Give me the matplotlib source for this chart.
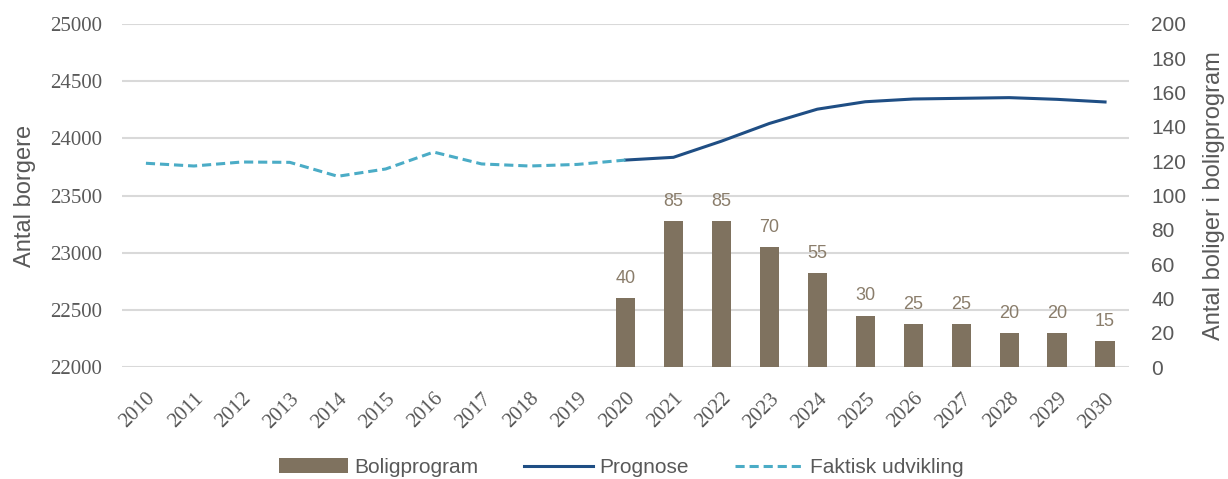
import matplotlib.pyplot as plt
import numpy as np

years = list(range(2010, 2031))
faktisk_years = list(range(2010, 2021))
faktisk = [23782, 23758, 23793, 23790, 23668, 23732, 23880, 23776, 23758, 23772, 23810]
prognose_years = list(range(2020, 2031))
prognose = [23810, 23834, 23975, 24130, 24255, 24320, 24344, 24350, 24356, 24341, 24318]
bolig_years = list(range(2020, 2031))
boligprogram = [40, 85, 85, 70, 55, 30, 25, 25, 20, 20, 15]

grey = '#595959'
bar_col = '#7f725f'

fig = plt.figure(figsize=(12.28, 4.79), dpi=100)
ax = fig.add_axes([0.0993, 0.2338, 0.8201, 0.7161])
ax2 = ax.twinx()

x = np.arange(len(years))
xf = [years.index(y) for y in faktisk_years]
xp = [years.index(y) for y in prognose_years]
xb = [years.index(y) for y in bolig_years]

# bars on the right axis, drawn above the left axis grid
ax2.bar(xb, boligprogram, width=0.4, color=bar_col, label='Boligprogram', zorder=2)
for xi, v in zip(xb, boligprogram):
    ax2.annotate(str(v), (xi, v), xytext=(0, 8), textcoords='offset points',
                 ha='center', va='bottom', fontsize=13, color='#8a7d6b',
                 family='Liberation Sans')

ax.plot(xp, prognose, color='#1f4e84', lw=2.2, label='Prognose', zorder=4)
ax.plot(xf, faktisk, color='#4bacc6', lw=2.2, ls=(0, (3, 1.6)), label='Faktisk udvikling', zorder=5)

ax.set_xlim(-0.5, len(years) - 0.5)
ax.set_ylim(22000, 25000)
ax.set_yticks(range(22000, 25001, 500))
ax2.set_ylim(0, 200)
ax2.set_yticks(range(0, 201, 20))

ax.grid(axis='y', color='#d9d9d9', lw=1.5)
ax.set_axisbelow(True)

for a in (ax, ax2):
    for s in a.spines.values():
        s.set_visible(False)
    a.tick_params(length=0, colors=grey)

ax.set_xticks(x)
ax.set_xticklabels([str(y) for y in years], rotation=45, ha='right',
                   rotation_mode='anchor', family='Liberation Serif', fontsize=15)
ax.tick_params(axis='x', pad=16)
ax.tick_params(axis='y', pad=14)
for t in ax.get_yticklabels():
    t.set_family('Liberation Serif')
    t.set_fontsize(15)
ax2.tick_params(axis='y', pad=16)
for t in ax2.get_yticklabels():
    t.set_family('Liberation Sans')
    t.set_fontsize(15)

ax.set_ylabel('Antal borgere', fontsize=17, color=grey, family='Liberation Sans', labelpad=10)
ax2.set_ylabel('Antal boliger i boligprogram', fontsize=17, color=grey,
               family='Liberation Sans', labelpad=12)

h1, l1 = ax2.get_legend_handles_labels()
h2, l2 = ax.get_legend_handles_labels()
leg = fig.legend(h1 + h2, l1 + l2, loc='center', bbox_to_anchor=(0.506, 0.024), ncol=3,
                 frameon=False, handlelength=3.3, columnspacing=2.2,
                 handletextpad=0.3, prop={'family': 'Liberation Sans', 'size': 15})
for t in leg.get_texts():
    t.set_color(grey)

fig.savefig('out.png', dpi=100)
